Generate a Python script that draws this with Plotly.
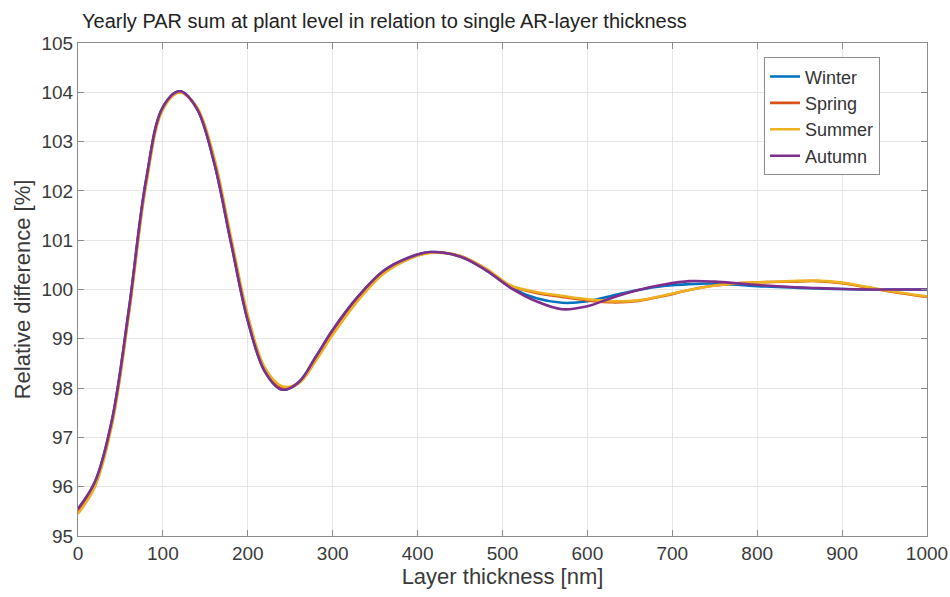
import plotly.graph_objects as go

thickness = [0, 20, 40, 60, 80, 100, 120, 140, 160, 180, 200, 220, 240, 260, 280, 300,
             330, 360, 390, 415, 450, 480, 510, 540, 570, 600, 630, 660, 690, 720, 750,
             780, 810, 840, 870, 900, 930, 960, 1000]

autumn = [95.55, 96.1, 97.35, 99.6, 102.2, 103.7, 104.02, 103.67, 102.6, 100.97, 99.37,
          98.34, 97.97, 98.12, 98.63, 99.18, 99.86, 100.38, 100.65, 100.76, 100.67, 100.4,
          100.03, 99.76, 99.6, 99.66, 99.84, 99.99, 100.1, 100.17, 100.16, 100.12, 100.08,
          100.05, 100.03, 100.01, 100.0, 100.0, 100.0]

winter = [95.55, 96.1, 97.35, 99.6, 102.2, 103.7, 104.02, 103.67, 102.6, 100.97, 99.37,
          98.34, 97.97, 98.12, 98.63, 99.18, 99.86, 100.38, 100.65, 100.76, 100.67, 100.4,
          100.04, 99.82, 99.73, 99.76, 99.88, 99.99, 100.07, 100.11, 100.12, 100.09, 100.06,
          100.04, 100.02, 100.01, 100.0, 100.0, 100.0]

spring = [95.5, 96.05, 97.3, 99.55, 102.15, 103.68, 104.0, 103.68, 102.65, 101.02, 99.42,
          98.38, 98.0, 98.1, 98.58, 99.12, 99.82, 100.35, 100.63, 100.75, 100.68, 100.42,
          100.07, 99.93, 99.85, 99.78, 99.74, 99.77, 99.87, 99.99, 100.08, 100.13, 100.15,
          100.16, 100.17, 100.13, 100.04, 99.95, 99.85]

summer = [95.45, 96.0, 97.25, 99.5, 102.1, 103.65, 104.0, 103.7, 102.7, 101.08, 99.48,
          98.42, 98.04, 98.1, 98.55, 99.08, 99.78, 100.32, 100.62, 100.74, 100.68, 100.43,
          100.08, 99.95, 99.87, 99.8, 99.76, 99.78, 99.88, 99.99, 100.08, 100.13, 100.15,
          100.17, 100.18, 100.14, 100.05, 99.96, 99.86]

series = [("Winter", winter, "#0072BD"),
          ("Spring", spring, "#D95319"),
          ("Summer", summer, "#EDB120"),
          ("Autumn", autumn, "#7E2F8E")]

FONT = "Liberation Sans, Arial, sans-serif"

fig = go.Figure()
for name, vals, col in series:
    fig.add_trace(go.Scatter(x=thickness, y=vals, mode="lines", name=name,
                             line=dict(color=col, width=2.6, shape="spline", smoothing=1.0)))

axis_common = dict(showline=True, mirror="ticks", linecolor="#8c8c8c", linewidth=1,
                   ticks="inside", ticklen=6, tickcolor="#8c8c8c",
                   showgrid=True, gridcolor="#e6e6e6", gridwidth=1, zeroline=False,
                   automargin=False,
                   tickfont=dict(family=FONT, size=19, color="#3a3a3a"))

fig.update_xaxes(range=[0, 1000], dtick=100, tick0=0,
                 title=dict(text="Layer thickness [nm]", standoff=2,
                            font=dict(family=FONT, size=22, color="#3a3a3a")),
                 **axis_common)
fig.update_yaxes(range=[95, 105], dtick=1, tick0=95,
                 title=dict(text="Relative difference [%]", standoff=4,
                            font=dict(family=FONT, size=22, color="#3a3a3a")),
                 **axis_common)

fig.update_layout(
    width=950, height=597,
    margin=dict(l=78, r=23, t=43, b=61),
    paper_bgcolor="white", plot_bgcolor="white",
    title=dict(text="Yearly PAR sum at plant level in relation to single AR-layer thickness",
               x=82 / 950, xanchor="left", y=1 - 21 / 597, yanchor="middle",
               font=dict(family=FONT, size=20, color="#222222")),
    legend=dict(x=0.808, y=0.971, xanchor="left", yanchor="top",
                bgcolor="white", bordercolor="#8c8c8c", borderwidth=1,
                font=dict(family=FONT, size=18, color="#333333"),
                tracegroupgap=0),
    showlegend=True,
)

fig.write_html("out.html")
